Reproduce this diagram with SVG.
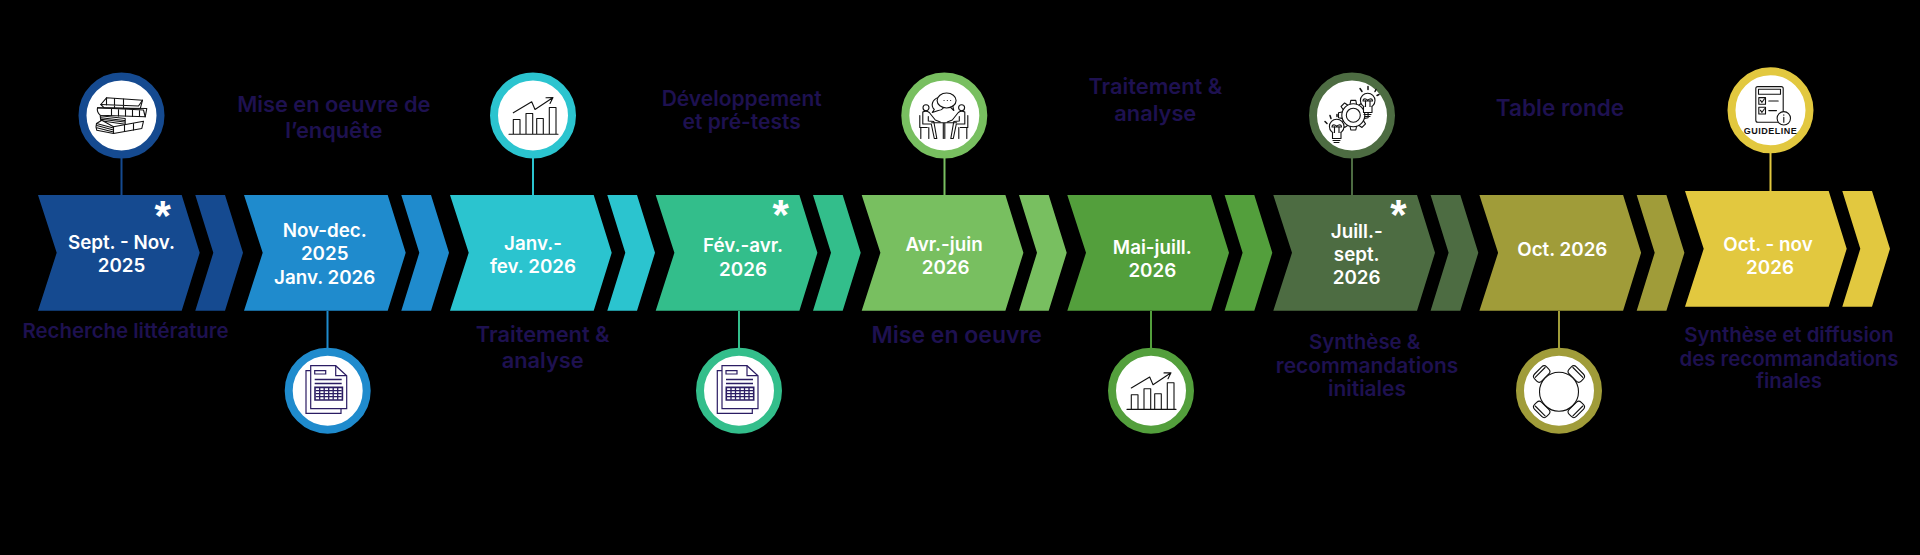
<svg xmlns="http://www.w3.org/2000/svg" width="1920" height="555" viewBox="0 0 1920 555">
<style>
text{font-family:"Inter","Liberation Sans",sans-serif;text-anchor:middle}
.w{fill:#fff;font-size:18.800px;font-weight:600}
.l{fill:#1e1150;font-size:20.400px;font-weight:600}
.m{font-size:21.800px}
.b{font-size:23px}
.a{fill:#fff;font-family:"Liberation Sans",sans-serif;font-size:42px;font-weight:700}
.ic{fill:none;stroke:#111;stroke-width:1.100;stroke-linejoin:round;stroke-linecap:round}
.pu{fill:none;stroke:#2b1c63;stroke-width:1.200}
.disc{fill:#fff;stroke-width:8}
.conn{stroke-width:2;fill:none}
</style>
<defs>
<path id="chev" d="M0 0H143.700L161.700 57.800L143.700 115.700H0L18.700 57.800Z"/>
<path id="tail" d="M157.300 0H187L205 57.800L187 115.700H157.300L175.300 57.800Z"/>
<g id="i-chart" class="ic">
<path d="M-24 18.700H25M-19.700 18.700V4H-13V18.700M-7 18.700V-2H-.3V18.700M3.700 18.700V3H10.300V18.700M16.300 18.700V-8H23V18.700"/>
<path d="M-19.700-2.700L-1.300-13.700L2-6L19.700-17.700M13-17.800L20-18L17-12"/>
</g>
<g id="i-doc" class="pu">
<path d="M-17-20H-21.700V22.700H13.300V18"/>
<path d="M-17-25H8L19-15V18H-17Z" fill="#fff"/>
<path d="M8-25V-15H19M-13-20H-2V-16.700H-13Z"/>
<path d="M-13-11.300H14M-13-7.300H14" stroke-width="1.500"/>
<path d="M-12.700-3.300H14.700V9.300H-12.700Z" fill="#fff" stroke-width="1.600"/>
<path d="M-8-3V9M-3.500-3V9M1-3V9M5.500-3V9M10-3V9M-12 0H14M-12 3H14M-12 6H14" stroke-width="1.300"/>
</g>
<g id="i-person">
<circle cx="-18.300" cy="-7.700" r="3"/>
<path d="M-21.500-3.500Q-18-5.500-15-3L-9 4.500L-4 6.500M-21.500-3.500V8.500H-13L-10 23H-7.500L-10.500 6L-16 5.500V1"/>
<path d="M-24.500 0V12H-17M-23.500 12V23M-15.500 12V23"/>
</g>
<g id="i-seat">
<rect x="-8.500" y="-5" width="17" height="10" rx="3.500" fill="#fff"/>
<path d="M-7-2.200H7"/>
</g>
<path id="i-tooth" d="M-3.200-11.300L-2.500-14.800H2.500L3.200-11.300"/>
</defs>
<rect id="background" width="1920" height="555" fill="#000"/>
<g id="connectors">
<path class="conn" stroke="#154a90" d="M121.500 158V195"/>
<path class="conn" stroke="#1f8bcd" d="M327.500 311V348"/>
<path class="conn" stroke="#2bc4cf" d="M533 158V195"/>
<path class="conn" stroke="#33be8b" d="M739 311V348"/>
<path class="conn" stroke="#78bf60" d="M944.500 158V195"/>
<path class="conn" stroke="#539f3c" d="M1151 311V348"/>
<path class="conn" stroke="#4d6c42" d="M1352 158V195"/>
<path class="conn" stroke="#a09c39" d="M1559 311V348"/>
<path class="conn" stroke="#e2c83f" d="M1770.500 153V191"/>
</g>
<g id="step1">
<g fill="#154a90" transform="translate(38 195)"><use href="#chev"/><use href="#tail"/></g>
<circle class="disc" cx="121.500" cy="115.500" r="39" stroke="#154a90"/>
<g class="ic" transform="translate(121.500 115.500)">
<path d="M-20.700-11L-15-17.700L21-15.300L18.700-6.700L-17.300-7.700Z"/>
<path d="M-20.700-11L17-9.500L21-15.300M-15-17.700V-10.500M-7-17V-8M2-16.500V-8"/>
<path d="M-24-7.700L25.300-7L23.700 1.300L-21.300-.3Q-25-4-24-7.700Z"/>
<path d="M-24-7.700L22-5.500L23.700 1.300M-10-6.500V0M-3-6V.5M4-6V.5M11-6V1M18-5.500V1"/>
<path d="M-21.300.3L3.700 3L3.700 8.700L-20.700 5.300ZM-20.500 2.300L3 5M-20.500 3.800L3 6.500"/>
<path d="M-25 8L-19.700 4.700L-8 11.300L22 5.700L20.300 13L-8 18L-24.700 14.700Q-26 11-25 8Z" fill="#fff"/>
<path d="M-25 8L-8 12.500M-24.800 10L-8 14.500M-24.700 12.300L-8 16.500M-8 11.300V18M3 9.500V16M12 8V14.500"/>
</g>
<text class="w" x="121.500" y="249">Sept. - Nov.</text>
<text class="w" x="121.500" y="271.700">2025</text>
<text class="a" x="162.700" y="230">*</text>
<text class="l" x="125.500" y="338">Recherche littérature</text>
</g>
<g id="step2">
<g fill="#1f8bcd" transform="translate(244 195)"><use href="#chev"/><use href="#tail"/></g>
<circle class="disc" cx="327.700" cy="390.700" r="39" stroke="#1f8bcd"/>
<use href="#i-doc" x="327.700" y="390.700"/>
<text class="w" x="324.700" y="236.700">Nov-dec.</text>
<text class="w" x="324.700" y="260">2025</text>
<text class="w" x="324.700" y="284.300">Janv. 2026</text>
<text class="l m" x="333.800" y="111.700">Mise en oeuvre de</text>
<text class="l m" x="333.800" y="137.500">l’enquête</text>
</g>
<g id="step3">
<g fill="#2bc4cf" transform="translate(450 195)"><use href="#chev"/><use href="#tail"/></g>
<circle class="disc" cx="533" cy="115.500" r="39" stroke="#2bc4cf"/>
<use href="#i-chart" x="533" y="115.500"/>
<text class="w" x="533" y="250">Janv.-</text>
<text class="w" x="533" y="272.700">fev. 2026</text>
<text class="l m" x="542.700" y="341.700">Traitement &amp;</text>
<text class="l m" x="542.700" y="367.700">analyse</text>
</g>
<g id="step4">
<g fill="#33be8b" transform="translate(655.700 195)"><use href="#chev"/><use href="#tail"/></g>
<circle class="disc" cx="739" cy="390.700" r="39" stroke="#33be8b"/>
<use href="#i-doc" x="739" y="390.700"/>
<text class="w" x="743" y="252">Fév.-avr.</text>
<text class="w" x="743" y="276">2026</text>
<text class="a" x="780.700" y="229">*</text>
<text class="l" style="font-size:21px" x="741.700" y="106">Développement</text>
<text class="l" style="font-size:21px" x="741.700" y="128.700">et pré-tests</text>
</g>
<g id="step5">
<g fill="#78bf60" transform="translate(861.700 195)"><use href="#chev"/><use href="#tail"/></g>
<circle class="disc" cx="944.300" cy="115.500" r="39" stroke="#78bf60"/>
<g class="ic" transform="translate(944.300 115.500)">
<path d="M-6-18C-12-16-14-10-10-6L-12-3L-6-5C-4-5-2-6-1-7.500"/>
<ellipse cx="2.300" cy="-15" rx="9.500" ry="7.500" fill="#fff"/>
<path d="M6-8.300L9.500-5L8.500-9.500"/>
<path d="M-.3-15h.1M3-15h.1M6.300-15h.1"/>
<use href="#i-person"/>
<use href="#i-person" transform="translate(-1 0) scale(-1 1)"/>
<path d="M-12.700 7.300H12.300M-1 7.300V23M.5 7.300V23"/>
</g>
<text class="w" x="944" y="251">Avr.-juin</text>
<text class="w" x="945.700" y="274">2026</text>
<text class="l b" x="956.700" y="342.700">Mise en oeuvre</text>
</g>
<g id="step6">
<g fill="#539f3c" transform="translate(1067.300 195)"><use href="#chev"/><use href="#tail"/></g>
<circle class="disc" cx="1151" cy="390.700" r="39" stroke="#539f3c"/>
<use href="#i-chart" x="1151" y="390.700"/>
<text class="w" x="1152.300" y="253.700">Mai-juill.</text>
<text class="w" x="1152.300" y="277">2026</text>
<text class="l m" x="1155.300" y="94.300">Traitement &amp;</text>
<text class="l m" x="1155.300" y="120.700">analyse</text>
</g>
<g id="step7">
<g fill="#4d6c42" transform="translate(1273.300 195)"><use href="#chev"/><use href="#tail"/></g>
<circle class="disc" cx="1352" cy="115.500" r="39" stroke="#4d6c42"/>
<g class="ic" transform="translate(1352 115.500)">
<g transform="translate(1.300 -.3)">
<circle r="7"/><circle r="11.500"/>
<use href="#i-tooth"/><use href="#i-tooth" transform="rotate(45)"/><use href="#i-tooth" transform="rotate(90)"/><use href="#i-tooth" transform="rotate(135)"/><use href="#i-tooth" transform="rotate(180)"/><use href="#i-tooth" transform="rotate(225)"/><use href="#i-tooth" transform="rotate(270)"/><use href="#i-tooth" transform="rotate(315)"/>
</g>
<circle cx="-15.300" cy="11" r="7.300" fill="#fff"/>
<path d="M-19.500 17V23H-11V17" fill="#fff"/>
<path d="M-19 25H-12M-18 27H-13M-17.500 11V17M-13 11V17M-20 11.500Q-20 9-17.500 9.500T-15.300 11.500H-20M-10.500 11.500Q-10.500 9-13 9.500T-15.300 11.500H-10.500"/>
<circle cx="15.700" cy="-15" r="7.300" fill="#fff"/>
<path d="M11.500-9V-3H20V-9" fill="#fff"/>
<path d="M12-1H19M13 1H18M13.500-15V-9M18-15V-9M11-14.500Q11-17 13.500-16.500T15.700-14.500H11M20.500-14.500Q20.500-17 18-16.500T15.700-14.500H20.500"/>
<path d="M-27 6L-25 8M-22 0L-21 3M-15-1V1M24-26L23-24M16-29V-26M8-27L10-24M27-21L25-20" stroke-width="1.500"/>
</g>
<text class="w" x="1356.700" y="238.300">Juill.-</text>
<text class="w" x="1356.700" y="261.300">sept.</text>
<text class="w" x="1356.700" y="284">2026</text>
<text class="a" x="1398.500" y="229">*</text>
<text class="l" x="1364.600" y="349.300">Synthèse &amp;</text>
<text class="l" style="font-size:20.900px" x="1367" y="372.700">recommandations</text>
<text class="l" style="font-size:20.900px" x="1367" y="395.700">initiales</text>
</g>
<g id="step8">
<g fill="#a09c39" transform="translate(1479.400 195)"><use href="#chev"/><use href="#tail"/></g>
<circle class="disc" cx="1559" cy="390.700" r="39" stroke="#a09c39"/>
<g class="ic" transform="translate(1559 390.700)">
<use href="#i-seat" transform="translate(-17.300 -16.700) rotate(-45)"/>
<use href="#i-seat" transform="translate(17.300 -16.700) rotate(45)"/>
<use href="#i-seat" transform="translate(-17.300 18.700) rotate(-135)"/>
<use href="#i-seat" transform="translate(17.300 18.700) rotate(135)"/>
<circle cx="0" cy="1" r="19.500" fill="#fff"/>
</g>
<text class="w" x="1562.300" y="255.700">Oct. 2026</text>
<text class="l" style="font-size:22.500px" x="1560" y="115.700">Table ronde</text>
</g>
<g id="step9">
<g fill="#e2c83f" transform="translate(1685 191)"><use href="#chev"/><use href="#tail"/></g>
<circle class="disc" cx="1770.500" cy="110.300" r="39" stroke="#e2c83f"/>
<g class="ic" transform="translate(1770.500 110.300)">
<rect x="-14.700" y="-23.700" width="27.400" height="35.700" rx="2"/>
<rect x="-12" y="-21" width="22" height="5"/>
<rect x="-11.700" y="-12.700" width="6.700" height="6.700"/>
<rect x="-11.700" y="-3" width="6.700" height="6.700"/>
<path d="M-1.700-9.300H7.700M-1.700.3H6M-10-10L-8.500-8L-6-11.500M-10 0L-8.500 2L-6-1.500"/>
<circle cx="13.300" cy="8" r="6.700" fill="#fff"/>
<path d="M13.300 7V12M13.300 4.500V5"/>
</g>
<text x="1770.500" y="134" style="font-family:'Liberation Sans',sans-serif;font-size:9px;font-weight:700;letter-spacing:.5px" fill="#111">GUIDELINE</text>
<text class="w" x="1768" y="251">Oct. - nov</text>
<text class="w" x="1770" y="274">2026</text>
<text class="l" x="1789" y="342.300">Synthèse et diffusion</text>
<text class="l" x="1789" y="365.700">des recommandations</text>
<text class="l" x="1789" y="388.300">finales</text>
</g>
</svg>
